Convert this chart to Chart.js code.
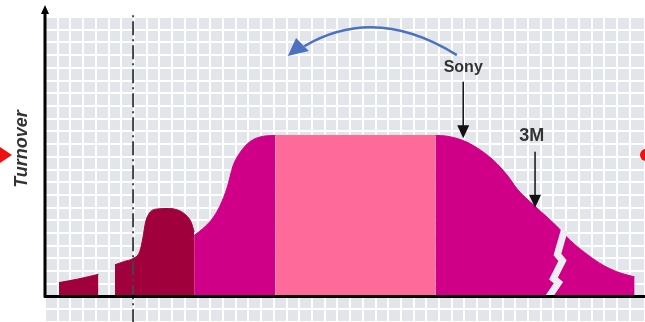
<!DOCTYPE html>
<html>
<head>
<meta charset="utf-8">
<script src="https://cdn.jsdelivr.net/npm/chart.js@4/dist/chart.umd.min.js"></script>
<style>
  html, body { margin: 0; padding: 0; background: #fff; }
  #wrap { width: 645px; height: 322px; }
</style>
</head>
<body>
<div id="wrap"><canvas id="plc"></canvas></div>
<script>
// life cycle turnover, x in grid cells from the y axis, y in grid cells above the baseline
const earlyX = [1.1, 2.6, 4.2];
const earlyY = [1.1, 1.38, 1.75];

const introX = [5.5, 6.2, 6.93, 7.45, 7.7, 7.9, 8.2, 8.9, 9.69, 10.47, 11.1, 11.5, 11.73];
const introY = [2.5, 2.75, 3.0, 3.55, 4.6, 5.8, 6.55, 6.9, 6.93, 6.8, 6.4, 5.85, 5.1];

const growthX = [11.73, 12.6, 13.23, 13.78, 14.33, 14.8, 15.35, 16.14, 17.09, 18.11];
const growthY = [4.8, 5.51, 6.22, 7.17, 8.58, 10.31, 11.34, 12.2, 12.6, 12.68];

const maturityX = [18.11, 30.71];
const maturityY = [12.68, 12.68];

const declineX = [30.71, 31.5, 32.83, 34.0, 35.3, 36.4, 37.2, 38.0, 39.0, 40.2, 41.34, 42.68, 43.94, 45.28, 46.38];
const declineY = [12.68, 12.64, 12.3, 11.7, 10.7, 9.5, 8.4, 7.6, 6.7, 5.6, 4.4, 3.3, 2.45, 1.85, 1.55];

// crack in the decline curve
const crackX = [40.85, 40.31, 40.71, 40.0, 40.39, 39.61];
const crackY = [5.2, 3.31, 2.83, 1.42, 1.1, -0.05];

// dash-dot marker line
const markerX = 6.93;

const pts = (xs, ys) => xs.map((x, i) => ({ x: x, y: ys[i] }));

const area = (label, xs, ys, color) => ({
  label: label,
  data: pts(xs, ys),
  backgroundColor: color,
  borderColor: color,
  borderWidth: 1,
  fill: 'origin',
  pointRadius: 0,
  cubicInterpolationMode: 'monotone',
  order: 5
});

// grey background, axes, labels and arrows
const decor = {
  id: 'decor',
  beforeDraw(chart) {
    const { ctx, chartArea: a } = chart;
    ctx.save();
    ctx.fillStyle = '#e2e5e9';
    ctx.fillRect(a.left, a.top, a.right - a.left, a.bottom - a.top);
    ctx.restore();
  },
  afterDatasetsDraw(chart) {
    const { ctx, scales } = chart;
    const X = v => scales.x.getPixelForValue(v);
    const Y = v => scales.y.getPixelForValue(v);
    const x0 = X(0), y0 = Y(0);
    ctx.save();

    // axes
    ctx.strokeStyle = '#000';
    ctx.lineWidth = 3;
    ctx.beginPath();
    ctx.moveTo(x0 - 1, y0);
    ctx.lineTo(chart.width, y0);
    ctx.moveTo(x0, y0 + 1);
    ctx.lineTo(x0, 12);
    ctx.stroke();
    ctx.fillStyle = '#000';
    ctx.beginPath();
    ctx.moveTo(x0, 5);
    ctx.lineTo(x0 - 4, 14);
    ctx.lineTo(x0 + 4, 14);
    ctx.closePath();
    ctx.fill();

    // down arrows
    const downArrow = (x, yFrom, yTo) => {
      const px = X(x), p1 = Y(yFrom), p2 = Y(yTo);
      ctx.strokeStyle = '#111';
      ctx.lineWidth = 1.5;
      ctx.beginPath();
      ctx.moveTo(px, p1);
      ctx.lineTo(px, p2 - 8);
      ctx.stroke();
      ctx.fillStyle = '#111';
      ctx.beginPath();
      ctx.moveTo(px, p2);
      ctx.lineTo(px - 6, p2 - 13);
      ctx.lineTo(px + 6, p2 - 13);
      ctx.closePath();
      ctx.fill();
    };
    downArrow(32.9, 16.9, 12.45);
    downArrow(38.55, 11.4, 7.0);

    ctx.fillStyle = '#333';
    ctx.textAlign = 'center';
    ctx.textBaseline = 'middle';
    ctx.font = 'bold 16px "Liberation Sans", Arial, sans-serif';
    ctx.fillText('Sony', X(32.9), Y(18.0));
    ctx.font = 'bold 18px "Liberation Sans", Arial, sans-serif';
    ctx.fillText('3M', X(38.3), Y(12.6));

    // curved blue arrow
    ctx.strokeStyle = '#4a72c0';
    ctx.lineWidth = 2.5;
    ctx.beginPath();
    ctx.moveTo(X(32.4), Y(19.0));
    ctx.quadraticCurveTo(X(26.0), Y(23.0), X(20.4), Y(19.7));
    ctx.stroke();
    ctx.fillStyle = '#4a72c0';
    ctx.beginPath();
    ctx.moveTo(X(19.1), Y(18.93));
    ctx.lineTo(X(19.75), Y(20.35));
    ctx.lineTo(X(20.75), Y(19.33));
    ctx.closePath();
    ctx.fill();

    // y title
    ctx.save();
    ctx.translate(22, Y(11.14) - 6);
    ctx.rotate(-Math.PI / 2);
    ctx.fillStyle = '#333';
    ctx.font = 'italic bold 18px "Liberation Sans", Arial, sans-serif';
    ctx.fillText('Turnover', 0, 0);
    ctx.restore();

    // edge markers
    ctx.fillStyle = '#f01010';
    ctx.beginPath();
    ctx.moveTo(0, Y(11.14) - 8);
    ctx.lineTo(12, Y(11.14));
    ctx.lineTo(0, Y(11.14) + 8);
    ctx.closePath();
    ctx.fill();
    ctx.beginPath();
    ctx.arc(chart.width + 1, Y(11.14), 6, 0, Math.PI * 2);
    ctx.fill();

    ctx.restore();
  }
};

new Chart(document.getElementById('plc'), {
  type: 'line',
  data: {
    datasets: [
      area('Early', earlyX, earlyY, '#a0003c'),
      area('Introduction', introX, introY, '#a0003c'),
      area('Growth', growthX, growthY, '#cf0087'),
      area('Maturity', maturityX, maturityY, '#fe6b9b'),
      area('Decline', declineX, declineY, '#cf0087'),
      {
        label: 'crack',
        data: pts(crackX, crackY),
        borderColor: '#eceef2',
        borderWidth: 7,
        pointRadius: 0,
        tension: 0,
        fill: false,
        order: 1
      },
      {
        label: 'marker',
        data: [{ x: markerX, y: -2.1 }, { x: markerX, y: 22.15 }],
        borderColor: '#444',
        borderWidth: 2,
        borderDash: [14, 4, 2, 4],
        pointRadius: 0,
        fill: false,
        clip: false,
        order: 0
      }
    ]
  },
  options: {
    responsive: true,
    maintainAspectRatio: false,
    animation: false,
    layout: { padding: { left: 45, top: 17, right: 0, bottom: 0 } },
    plugins: { legend: { display: false }, tooltip: { enabled: false } },
    scales: {
      x: {
        type: 'linear',
        min: 0,
        max: 47.2,
        ticks: { display: false, stepSize: 1 },
        grid: { color: '#ffffff', lineWidth: 2, drawTicks: false },
        border: { display: false }
      },
      y: {
        type: 'linear',
        min: -2,
        max: 22,
        ticks: { display: false, stepSize: 1 },
        grid: { color: '#ffffff', lineWidth: 2, drawTicks: false },
        border: { display: false }
      }
    }
  },
  plugins: [decor]
});
</script>
</body>
</html>
